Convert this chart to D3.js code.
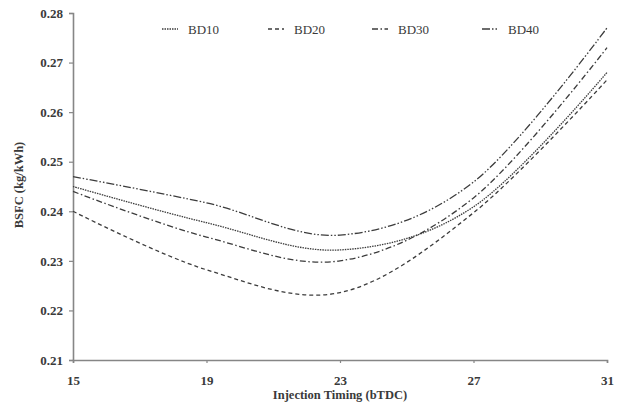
<!DOCTYPE html>
<html>
<head>
<meta charset="utf-8">
<script src="https://cdn.jsdelivr.net/npm/d3@7"></script>
<style>
  html, body { margin: 0; padding: 0; background: #fff; }
  svg { display: block; }
</style>
</head>
<body>
<svg id="chart" width="620" height="406"></svg>
<script>
// Injection timing (deg bTDC) and brake specific fuel consumption per blend
const timing = [15, 19, 23, 27, 31];
const bd10 = [0.245, 0.2377, 0.2322, 0.2409, 0.268];
const bd20 = [0.240, 0.2282, 0.2236, 0.2397, 0.2665];
const bd30 = [0.244, 0.2348, 0.2300, 0.2427, 0.273];
const bd40 = [0.247, 0.2417, 0.2352, 0.2459, 0.277];
const seriesNames = ["BD10", "BD20", "BD30", "BD40"];
const xTicks = [15, 19, 23, 27, 31];
const yTicks = [0.21, 0.22, 0.23, 0.24, 0.25, 0.26, 0.27, 0.28];

const series = [
  { name: seriesNames[0], values: bd10, dash: "1.5,1" },
  { name: seriesNames[1], values: bd20, dash: "4,3" },
  { name: seriesNames[2], values: bd30, dash: "6,2.5,1.5,2.5" },
  { name: seriesNames[3], values: bd40, dash: "8,2,1.5,2,1.5,2" }
];

const svg = d3.select("#chart");
const margin = { left: 73, right: 13, top: 13, bottom: 46 };
const W = 620, H = 406;

const x = d3.scaleLinear().domain([15, 31]).range([margin.left, W - margin.right]);
const y = d3.scaleLinear().domain([0.21, 0.28]).range([H - margin.bottom, margin.top]);

const axisColor = "#868686";
const textColor = "#3a3a3a";
const serif = "'Liberation Serif', 'Times New Roman', serif";

// Y axis
const yAxis = svg.append("g")
  .attr("transform", `translate(${margin.left},0)`)
  .call(d3.axisLeft(y).tickValues(yTicks).tickFormat(d3.format(".2f")).tickSize(4).tickPadding(6));
// X axis
const xAxis = svg.append("g")
  .attr("transform", `translate(0,${H - margin.bottom})`)
  .call(d3.axisBottom(x).tickValues(xTicks).tickFormat(d3.format("d")).tickSize(3).tickPadding(13));

[yAxis, xAxis].forEach(g => {
  g.select(".domain").attr("stroke", axisColor).attr("stroke-width", 1.6);
  g.selectAll(".tick line").attr("stroke", axisColor).attr("stroke-width", 1.2);
  g.selectAll(".tick text")
    .attr("fill", textColor)
    .style("font-family", serif)
    .style("font-weight", "bold")
    .style("font-size", "13px");
});

// Curves
const line = d3.line()
  .x((d, i) => x(timing[i]))
  .y(d => y(d))
  .curve(d3.curveCatmullRom.alpha(0));

svg.append("g").selectAll("path")
  .data(series)
  .join("path")
  .attr("d", d => line(d.values))
  .attr("fill", "none")
  .attr("stroke", "#3c3c3c")
  .attr("stroke-width", 1.3)
  .attr("stroke-dasharray", d => d.dash);

// Legend
const legendX = [162, 268, 372, 482];
const legend = svg.append("g").selectAll("g")
  .data(series)
  .join("g")
  .attr("transform", (d, i) => `translate(${legendX[i]},29)`);
legend.append("line")
  .attr("x1", 0).attr("x2", 16)
  .attr("stroke", "#3c3c3c")
  .attr("stroke-width", 1.3)
  .attr("stroke-dasharray", d => d.dash);
legend.append("text")
  .attr("x", 26).attr("y", 4.5)
  .attr("fill", textColor)
  .style("font-family", serif)
  .style("font-size", "13px")
  .text(d => d.name);

// Axis titles
svg.append("text")
  .attr("x", (x(15) + x(31)) / 2 + 0)
  .attr("y", 399)
  .attr("text-anchor", "middle")
  .attr("fill", textColor)
  .style("font-family", serif)
  .style("font-weight", "bold")
  .style("font-size", "12.5px")
  .text("Injection Timing (bTDC)");

svg.append("text")
  .attr("transform", "translate(23,185) rotate(-90)")
  .attr("text-anchor", "middle")
  .attr("fill", textColor)
  .style("font-family", serif)
  .style("font-weight", "bold")
  .style("font-size", "12.5px")
  .text("BSFC (kg/kWh)");
</script>
</body>
</html>
